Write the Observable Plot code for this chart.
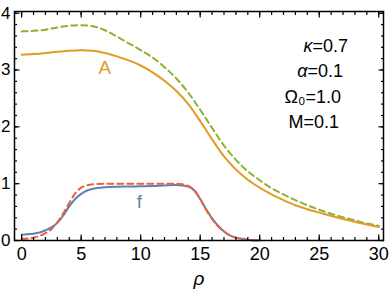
<!DOCTYPE html>
<html>
<head>
<meta charset="utf-8">
<script src="https://cdn.jsdelivr.net/npm/d3@7"></script>
<script src="https://cdn.jsdelivr.net/npm/@observablehq/plot@0.6"></script>
<style>
  html, body { margin: 0; padding: 0; background: white; }
</style>
</head>
<body>
<div id="chart"></div>
<script>
// --- data ---
const rhoA = [0,1,2,3,4,5,6,7,8,9,10,11,12,13,14,15,16,17,18,19,20,21,22,23,24,25,26,27,28,29,30];
const A_solid = [3.27,3.28,3.30,3.32,3.34,3.35,3.34,3.30,3.24,3.17,3.08,2.96,2.81,2.63,2.40,2.10,1.78,1.48,1.25,1.07,0.93,0.81,0.71,0.62,0.55,0.49,0.43,0.38,0.33,0.28,0.235];
const A_dashed = [3.68,3.69,3.71,3.75,3.78,3.79,3.77,3.70,3.59,3.47,3.35,3.22,3.05,2.85,2.60,2.30,1.98,1.67,1.42,1.22,1.06,0.92,0.81,0.71,0.62,0.54,0.47,0.41,0.355,0.30,0.26];
const rhoF = [0,0.5,1,1.5,2,2.5,3,3.5,4,4.5,5,5.5,6,7,8,9,10,11,12,13,13.5,14,14.5,15,15.5,16,16.5,17,17.5,18,18.5,19,20];
const f_solid = [0.10,0.11,0.12,0.14,0.18,0.23,0.31,0.44,0.60,0.73,0.82,0.88,0.91,0.935,0.945,0.95,0.955,0.96,0.97,0.975,0.97,0.95,0.88,0.73,0.55,0.39,0.26,0.16,0.09,0.05,0.03,0.015,0.005];
const f_dashed = [0.03,0.035,0.05,0.08,0.13,0.20,0.32,0.48,0.66,0.83,0.93,0.97,0.99,1.0,1.0,1.0,1.0,1.0,1.0,1.0,0.99,0.96,0.89,0.73,0.54,0.38,0.25,0.16,0.09,0.05,0.025,0.01,0.0];
const xMajor = [0,5,10,15,20,25,30];
const xMinor = d3.range(0, 31, 1);
const yMajor = [0,1,2,3,4];
const yMinor = d3.range(0, 4.01, 0.2).map(v => +v.toFixed(1));
const curveLabels = [{x: 7.0, y: 3.03, t: "A", c: "#E09C24"}, {x: 9.9, y: 0.68, t: "f", c: "#5E81B5"}];
const paramNames = ["κ", "α", "Ω₀", "M"];
const paramValues = ["=0.7", "=0.1", "=1.0", "=0.1"];
const paramItalic = [true, true, false, false];
const paramX = [24.44, 24.02, 23.85, 23.68];
const paramY = [3.42, 2.98, 2.53, 2.09];

const colA = "#E09C24", colAd = "#8FB032", colF = "#5E81B5", colFd = "#EB6235";
const toPts = (xs, ys) => xs.map((x, i) => ({x, y: ys[i]}));
const params = paramNames.map((n, i) => ({n, v: paramValues[i], it: paramItalic[i], x: paramX[i], y: paramY[i]}));

const fs = 18;
const chart = Plot.plot({
  width: 390, height: 297,
  marginLeft: 14, marginRight: 7, marginTop: 11, marginBottom: 57,
  style: {fontFamily: "'Liberation Sans', Arial, sans-serif", fontSize: fs + "px", background: "white", color: "black", overflow: "visible"},
  x: {domain: [-0.6, 30.4]},
  y: {domain: [0, 4.03]},
  marks: [
    Plot.line(toPts(rhoA, A_dashed), {x: "x", y: "y", stroke: colAd, strokeWidth: 2, strokeDasharray: "6,4", curve: "monotone-x"}),
    Plot.line(toPts(rhoA, A_solid), {x: "x", y: "y", stroke: colA, strokeWidth: 2, curve: "monotone-x"}),
    Plot.line(toPts(rhoF, f_solid), {x: "x", y: "y", stroke: colF, strokeWidth: 2, curve: "monotone-x"}),
    Plot.line(toPts(rhoF, f_dashed), {x: "x", y: "y", stroke: colFd, strokeWidth: 2, strokeDasharray: "6,4", curve: "monotone-x"}),
    Plot.text(curveLabels, {x: "x", y: "y", text: "t", fill: "c", fontSize: 19}),
    Plot.text(params.filter(d => d.it), {x: "x", y: "y", text: "n", textAnchor: "end", fontStyle: "italic", fontSize: fs}),
    Plot.text(params.filter(d => !d.it), {x: "x", y: "y", text: "n", textAnchor: "end", fontSize: fs}),
    Plot.text(params, {x: "x", y: "y", text: "v", textAnchor: "start", fontSize: fs}),
    // axes: inward ticks
    Plot.axisX(xMinor, {anchor: "bottom", tickSize: -3, text: null, label: null, strokeWidth: 1.2}),
    Plot.axisX(xMajor, {anchor: "bottom", tickSize: -5.5, text: null, label: null, strokeWidth: 1.2}),
    Plot.axisX(xMinor, {anchor: "top", tickSize: -3, text: null, label: null, strokeWidth: 1.2}),
    Plot.axisX(xMajor, {anchor: "top", tickSize: -5.5, text: null, label: null, strokeWidth: 1.2}),
    Plot.axisY(yMinor, {anchor: "left", tickSize: -3, text: null, label: null, strokeWidth: 1.2}),
    Plot.axisY(yMajor, {anchor: "left", tickSize: -5.5, text: null, label: null, strokeWidth: 1.2}),
    Plot.axisY(yMinor, {anchor: "right", tickSize: -3, text: null, label: null, strokeWidth: 1.2}),
    Plot.axisY(yMajor, {anchor: "right", tickSize: -5.5, text: null, label: null, strokeWidth: 1.2}),
    Plot.axisX(xMajor, {anchor: "bottom", tickSize: 0, tickPadding: 7, label: null, fontSize: fs}),
    Plot.text(yMajor, {y: d => d, text: d => String(d), frameAnchor: "left", dx: -4, textAnchor: "end", fontSize: 17}),
    Plot.frame({stroke: "black", strokeWidth: 1.5}),
    Plot.text(["ρ"], {frameAnchor: "bottom", dy: 44, fontStyle: "italic", fontSize: 19})
  ]
});
document.getElementById("chart").appendChild(chart);
</script>
</body>
</html>
